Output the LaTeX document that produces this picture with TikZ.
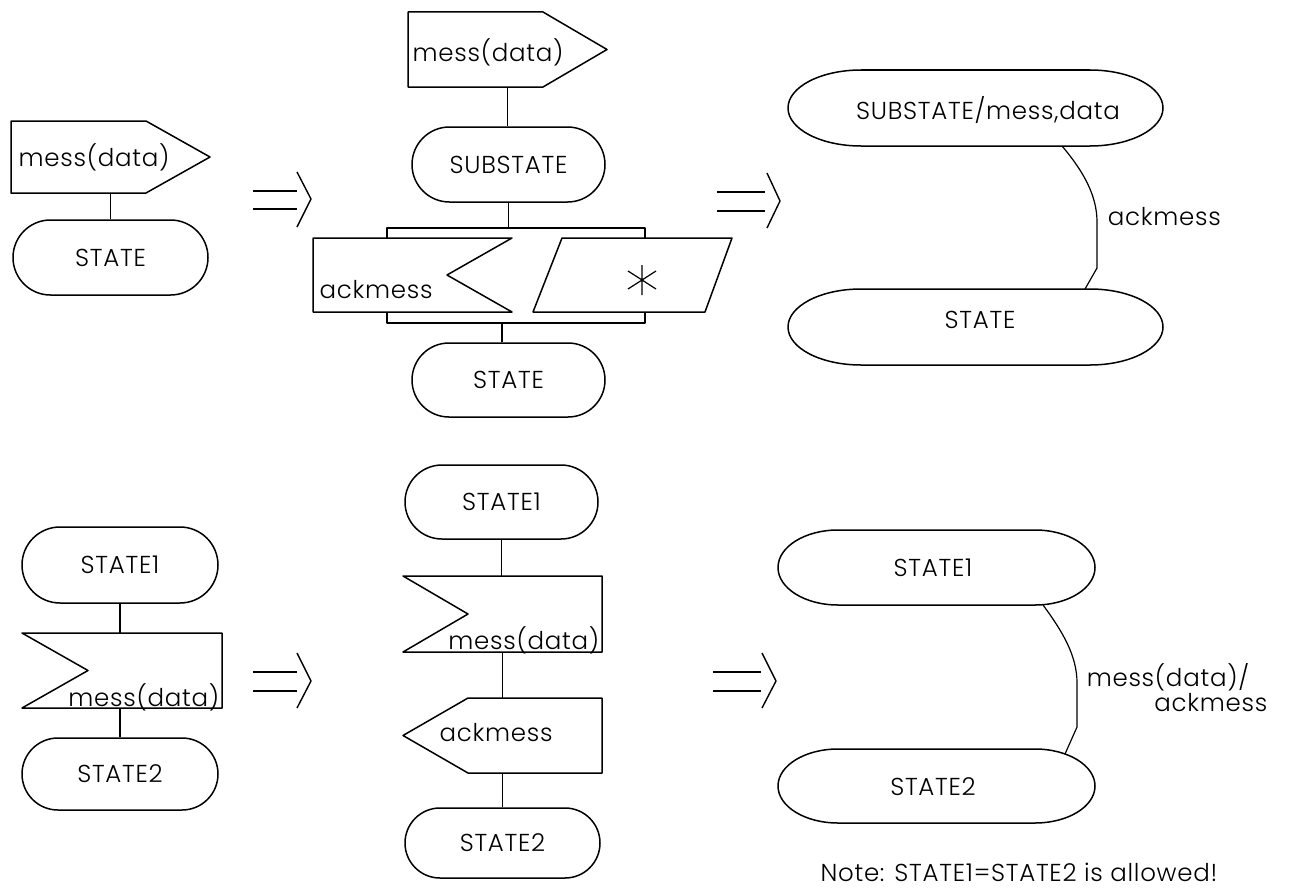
\documentclass[tikz,border=0pt]{standalone}
\usepackage{fontspec}
\IfFontExistsTF{Poppins Light}
  {\setmainfont{Poppins Light}[LetterSpace=3]}
  {\setmainfont{Poppins}[LetterSpace=3]}
\usetikzlibrary{shapes.misc,calc}
\newcommand\txtsize{\fontsize{24.5}{28}\selectfont}
\newcommand\ovalout[3]{%
  \draw ($(#1.north west)+(#2,0)$) -- ($(#1.north east)+(-#2,0)$)
    arc[start angle=90,end angle=-90,x radius=#2pt,y radius=#3pt]
    -- ($(#1.south west)+(#2,0)$)
    arc[start angle=270,end angle=90,x radius=#2pt,y radius=#3pt] -- cycle;}
\tikzset{
  term/.style={rounded rectangle, draw, inner sep=0pt, font=\txtsize},
  bbox/.style={draw=none, inner sep=0pt, outer sep=0pt, rectangle},
  txt/.style={inner sep=0pt, font=\txtsize},
  conn/.style={line width=1.2pt},
  impl/.style={line width=1.4pt},
}
\begin{document}
\begin{tikzpicture}[x=1pt,y=-1pt,line width=1.5pt,line join=round]
\useasboundingbox (0,0) rectangle (1303,891);
\fill[white] (0,0) rectangle (1303,891);

% ---------- top left
\node[bbox, minimum width=199pt, minimum height=72pt] (o1) at (110.5,157) {};
\draw (o1.north west) -- ($(o1.north east)+(-64,0)$) -- (o1.east) -- ($(o1.south east)+(-64,0)$) -- (o1.south west) -- cycle;
\node[txt] (o1t) at (94,157) {mess(data)};
\node[term, minimum width=195pt, minimum height=75pt] (s1) at (110.5,257.5) {STATE};
\draw[conn] (o1.south) -- (s1.north);

% arrow 1
\draw[impl] (253,191) -- (297,191) (253,209) -- (297,209);
\draw[impl] (297,172) -- (311,199) -- (297,227);

% ---------- top middle
\node[bbox, minimum width=199pt, minimum height=75pt] (o2) at (507.5,49.5) {};
\draw (o2.north west) -- ($(o2.north east)+(-64,0)$) -- (o2.east) -- ($(o2.south east)+(-64,0)$) -- (o2.south west) -- cycle;
\node[txt] (o2t) at (488,52) {mess(data)};
\node[term, minimum width=193pt, minimum height=75pt] (s2) at (508.5,164.5) {SUBSTATE};
\draw[conn] (o2.south) -- (o2.south |- s2.north);

\node[bbox, minimum width=258pt, minimum height=95pt] (par) at (516,275.5) {};
\draw ($(par.north west)+(0,10)$) -- (par.north west) -- (par.north east) -- ($(par.north east)+(0,10)$);
\draw ($(par.south west)+(0,-10)$) -- (par.south west) -- (par.south east) -- ($(par.south east)+(0,-10)$);
\draw[conn] (s2.south) -- (s2.south |- par.north);

\node[bbox, minimum width=199pt, minimum height=74pt] (in1) at (412.5,275) {};
\draw[fill=white] (in1.north west) -- (in1.north east) -- ($(in1.east)+(-65,0)$) -- (in1.south east) -- (in1.south west) -- cycle;
\node[txt] (in1t) at (376,290) {ackmess};

\node[bbox, minimum width=199pt, minimum height=74pt] (cs) at (632.5,275) {};
\draw[fill=white] ($(cs.north west)+(29,0)$) -- (cs.north east) -- ($(cs.south east)+(-27,0)$) -- (cs.south west) -- cycle;
\draw[line width=1.2pt] (642,265) -- (642,295) (628,271) -- (656,289) (656,271) -- (628,289);

\node[term, minimum width=193pt, minimum height=74pt] (s3) at (508.5,380) {STATE};
\coordinate (pb) at ($(par.south)+(-14,0)$);
\draw[conn] (pb) -- (pb |- s3.north);

% arrow 2
\draw[impl] (717,192) -- (765,192) (717,211) -- (765,211);
\draw[impl] (767,173) -- (780,201) -- (767,228);

% ---------- top right
\node[bbox, minimum width=375pt, minimum height=76pt] (e1) at (975.5,108) {};
\ovalout{e1}{73}{38}
\node[txt] (e1t) at (988,110) {SUBSTATE/mess,data};
\node[bbox, minimum width=375pt, minimum height=76pt] (e2) at (975.5,327) {};
\ovalout{e2}{73}{38}
\node[txt] (e2t) at (980,320) {STATE};
\draw[conn] ($(e1.south)+(86.5,0)$) .. controls (1084,172) and (1097,196) .. (1097,222) -- (1097,268) -- ($(e2.north)+(109.5,0)$);
\node[txt, anchor=west] (ack1) at (1107,217) {ackmess};

% ---------- bottom left
\node[term, minimum width=196pt, minimum height=76pt] (s4) at (120,565) {STATE1};
\node[bbox, minimum width=200pt, minimum height=75pt] (in2) at (122,670.5) {};
\draw (in2.north west) -- (in2.north east) -- (in2.south east) -- (in2.south west) -- ($(in2.west)+(66,0)$) -- cycle;
\node[txt, anchor=east] (in2t) at (220,697) {mess(data)};
\node[term, minimum width=196pt, minimum height=72pt] (s5) at (120,774) {STATE2};
\draw[conn] (s4.south) -- (s4.south |- in2.north);
\draw[conn] (s5.north |- in2.south) -- (s5.north);

% arrow 3
\draw[impl] (253,672) -- (297,672) (253,691) -- (297,691);
\draw[impl] (297,653) -- (311,681) -- (297,708);

% ---------- bottom middle
\node[term, minimum width=193pt, minimum height=74pt] (s6) at (501.5,502) {STATE1};
\node[bbox, minimum width=199pt, minimum height=76pt] (in3) at (502.5,614) {};
\draw (in3.north west) -- (in3.north east) -- (in3.south east) -- (in3.south west) -- ($(in3.west)+(65,0)$) -- cycle;
\node[txt, anchor=east] (in3t) at (600,640) {mess(data)};
\node[bbox, minimum width=199pt, minimum height=75pt] (o3) at (502.5,735.5) {};
\draw (o3.north east) -- ($(o3.north west)+(65,0)$) -- (o3.west) -- ($(o3.south west)+(65,0)$) -- (o3.south east) -- cycle;
\node[txt] (o3t) at (496,733) {ackmess};
\node[term, minimum width=195pt, minimum height=70pt] (s7) at (502.5,843) {STATE2};
\draw[conn] (s6.south) -- (s6.south |- in3.north);
\draw[conn] (in3.south) -- (o3.north);
\draw[conn] (o3.south) -- (o3.south |- s7.north);

% arrow 4
\draw[impl] (713,672) -- (761,672) (713,691) -- (761,691);
\draw[impl] (762,653) -- (776,681) -- (762,708);

% ---------- bottom right
\node[bbox, minimum width=317pt, minimum height=75pt] (e3) at (936.5,567.5) {};
\ovalout{e3}{60}{37.5}
\node[txt] (e3t) at (933,568) {STATE1};
\node[bbox, minimum width=317pt, minimum height=74pt] (e4) at (936.5,786) {};
\ovalout{e4}{60}{37}
\node[txt] (e4t) at (933,787) {STATE2};
\draw[conn] ($(e3.south)+(106.5,0)$) .. controls (1063,632) and (1077,656) .. (1077,683) -- (1077,727) -- ($(e4.north)+(128.5,5)$);
\node[txt, anchor=west] (lab1) at (1086,677) {mess(data)/};
\node[txt, anchor=east] (lab2) at (1268,703) {ackmess};
\node[txt] (note) at (1019,872) {Note: STATE1=STATE2 is allowed!};
\end{tikzpicture}
\end{document}
